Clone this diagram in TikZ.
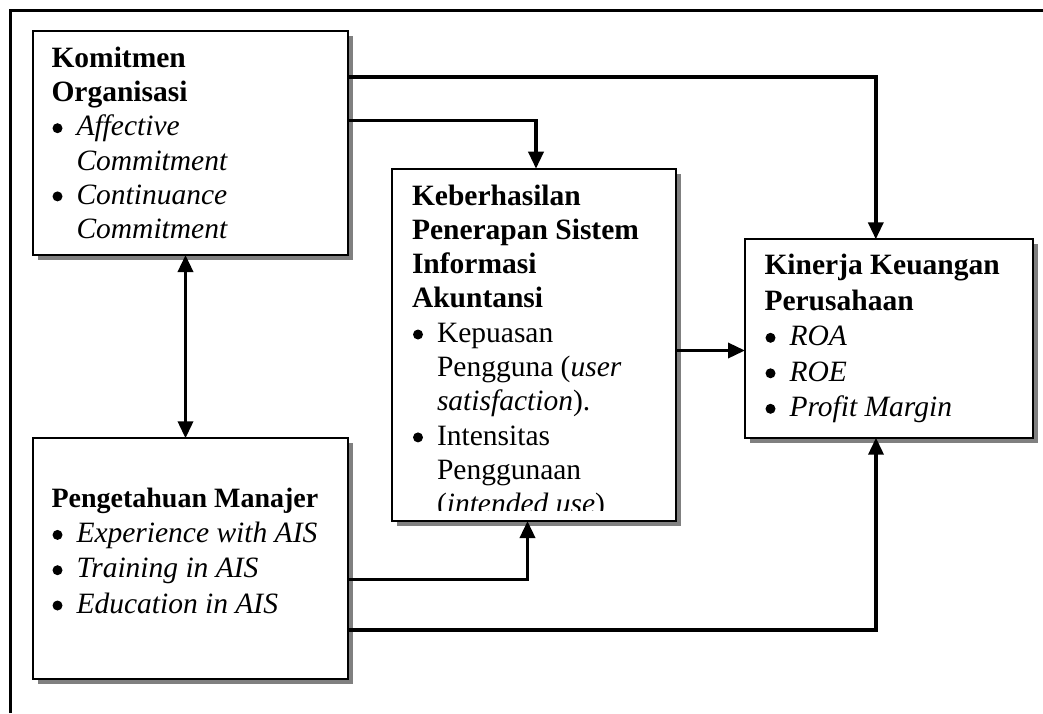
\documentclass[tikz,border=0pt]{standalone}
\usepackage{fontspec}
\setmainfont{Liberation Serif}
\usetikzlibrary{arrows.meta,shadows,calc}
\newcommand\bitem{\makebox[25pt][l]{\hspace*{1pt}\tikz[baseline=-7.7pt]\fill (0pt,0pt) circle[radius=5pt];}}
\newcommand\bcont{\hspace*{25pt}}
\newcommand\fstrut{\rule{0pt}{21pt}}
\begin{document}
\begin{tikzpicture}[x=1pt,y=-1pt,
  >={Triangle[width=15pt,length=17pt]},
  box/.style={draw,line width=2pt,fill=white,inner sep=0pt,outer sep=0pt,anchor=north west,
    general shadow={shadow xshift=5pt,shadow yshift=-5pt,fill=black!50}},
  txt/.style={anchor=north west,inner sep=0pt,outer sep=0pt,align=left},
  conn/.style={line width=3.5pt,line join=miter,->},
  frame/.style={line width=3.5pt,line join=miter}]
\useasboundingbox (0,0) rectangle (1043,713);
% outer frame (only left and top edges visible)
\draw[frame] (10.5,713) -- (10.5,10.5) -- (1043,10.5);
% boxes
\node[box,minimum width=315pt,minimum height=224pt] (kom) at (32.5,31) {};
\node[box,minimum width=315pt,minimum height=241pt] (pen) at (32.5,438.3) {};
\node[box,minimum width=284.1pt,minimum height=352.3pt] (ker) at (391.7,168.7) {};
\node[box,minimum width=288.3pt,minimum height=198.4pt] (kin) at (745,239.3) {};
% texts
\node[txt,font=\fontsize{29.5}{34.1}\selectfont] (komt) at (51.5,46.7)
 {\fstrut\textbf{Komitmen}\\\textbf{Organisasi}\\\bitem\textit{Affective}\\\bcont\textit{Commitment}\\\bitem\textit{Continuance}\\\bcont\textit{Commitment}};
\node[txt,font=\fontsize{29.5}{35.3}\selectfont] (pent) at (51.5,486.3)
 {\fstrut{\fontsize{28}{35.3}\selectfont\textbf{Pengetahuan Manajer}}\\\bitem\textit{Experience with AIS}\\\bitem\textit{Training in AIS}\\\bitem\textit{Education in AIS}};
\begin{scope}
\clip (ker.north west) rectangle ($(ker.south east)+(0,-11)$);
\node[txt,font=\fontsize{29.5}{34.3}\selectfont] (kert) at (412,184)
 {\fstrut\textbf{Keberhasilan}\\\textbf{Penerapan Sistem}\\\textbf{Informasi}\\\textbf{Akuntansi}\\\bitem Kepuasan\\\bcont Pengguna (\textit{user}\\\bcont\textit{satisfaction}).\\\bitem Intensitas\\\bcont Penggunaan\\\bcont(\textit{intended use})};
\end{scope}
\node[txt,font=\fontsize{29.5}{35.5}\selectfont] (kint) at (764.5,253.5)
 {\fstrut\textbf{Kinerja Keuangan}\\\textbf{Perusahaan}\\\bitem\textit{ROA}\\\bitem\textit{ROE}\\\bitem\textit{Profit Margin}};
% bend points
\coordinate (b1) at (875.8,77);
\coordinate (b2) at (536,120.5);
\coordinate (b3) at (185.5,0);
\coordinate (b4) at (0,350.5);
\coordinate (b5) at (527.5,579.5);
\coordinate (b6) at (876,629.8);
% connectors
\draw[conn] (kom.east |- b1) -- (b1) -- (kin.north -| b1);
\draw[conn] (kom.east |- b2) -- (b2) -- (ker.north -| b2);
\draw[conn,<->] (kom.south -| b3) -- (pen.north -| b3);
\draw[conn] (ker.east |- b4) -- (kin.west |- b4);
\draw[conn] (pen.east |- b5) -- (b5) -- (ker.south -| b5);
\draw[conn] (pen.east |- b6) -- (b6) -- (kin.south -| b6);
\end{tikzpicture}
\end{document}
